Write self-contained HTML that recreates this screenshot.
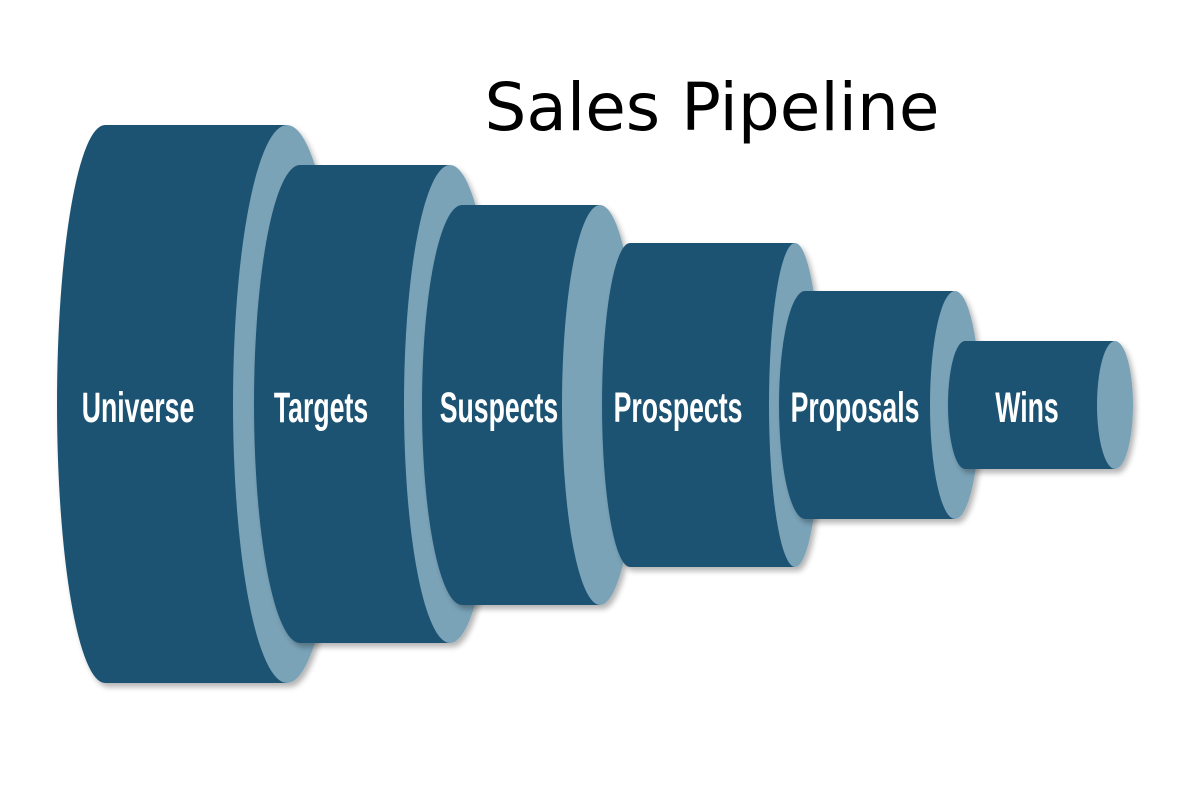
<!DOCTYPE html>
<html><head><meta charset="utf-8"><style>
html,body{margin:0;padding:0;background:#fff;width:1200px;height:800px;overflow:hidden}
svg{display:block}
.t{font-family:"Liberation Sans",sans-serif;font-weight:bold;font-size:43px;fill:#fff;text-anchor:middle}
</style></head><body>
<svg width="1200" height="800" viewBox="0 0 1200 800">
<defs><filter id="s" x="-10%" y="-10%" width="130%" height="130%"><feGaussianBlur in="SourceAlpha" stdDeviation="3"/><feOffset dx="3" dy="4"/><feComponentTransfer><feFuncA type="linear" slope="0.3"/></feComponentTransfer><feMerge><feMergeNode/><feMergeNode in="SourceGraphic"/></feMerge></filter></defs>
<text x="712" y="130" font-family="DejaVu Sans, sans-serif" font-size="66" fill="#000" text-anchor="middle">Sales Pipeline</text>
<g filter="url(#s)">
<path d="M287 125 L105 125 A48 279 0 0 0 105 683 L287 683 Z" fill="#1f5372"/>
<ellipse cx="287" cy="404" rx="54" ry="279" fill="#7aa3b8"/>
</g>
<g filter="url(#s)">
<path d="M450 165 L300 165 A46 239 0 0 0 300 643 L450 643 Z" fill="#1f5372"/>
<ellipse cx="450" cy="404" rx="46" ry="239" fill="#7aa3b8"/>
</g>
<g filter="url(#s)">
<path d="M600 205 L462 205 A40 200 0 0 0 462 605 L600 605 Z" fill="#1f5372"/>
<ellipse cx="600" cy="405" rx="38" ry="200" fill="#7aa3b8"/>
</g>
<g filter="url(#s)">
<path d="M795 243 L630 243 A28 162 0 0 0 630 567 L795 567 Z" fill="#1f5372"/>
<ellipse cx="795" cy="405" rx="26" ry="162" fill="#7aa3b8"/>
</g>
<g filter="url(#s)">
<path d="M955 291 L805 291 A26 114 0 0 0 805 519 L955 519 Z" fill="#1f5372"/>
<ellipse cx="955" cy="405" rx="25" ry="114" fill="#7aa3b8"/>
</g>
<g filter="url(#s)">
<path d="M1115 341 L965 341 A17 64 0 0 0 965 469 L1115 469 Z" fill="#1f5372"/>
<ellipse cx="1115" cy="405" rx="18" ry="64" fill="#7aa3b8"/>
</g>
<g class="t">
<text transform="translate(138 422) scale(0.62 1)">Universe</text>
<text transform="translate(321 422) scale(0.62 1)">Targets</text>
<text transform="translate(499 422) scale(0.62 1)">Suspects</text>
<text transform="translate(678 422) scale(0.62 1)">Prospects</text>
<text transform="translate(855 422) scale(0.62 1)">Proposals</text>
<text transform="translate(1027 422) scale(0.62 1)">Wins</text>
</g>
</svg>
</body></html>
